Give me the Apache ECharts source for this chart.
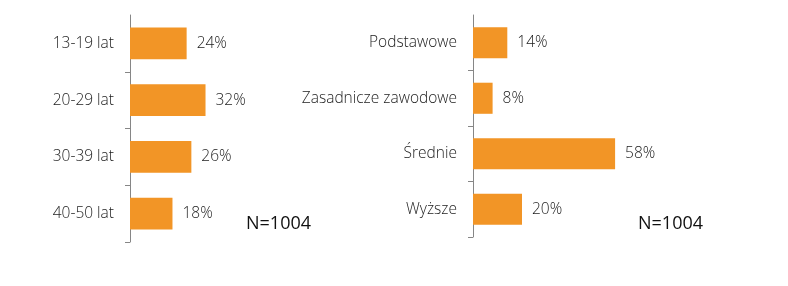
<!DOCTYPE html>
<html>
<head>
<meta charset="utf-8">
<script src="https://cdn.jsdelivr.net/npm/echarts@6/dist/echarts.min.js"></script>
<style>
html,body{margin:0;padding:0;background:#fff;}
#c{width:788px;height:286px;}
</style>
</head>
<body>
<div id="c"></div>
<script>
const ageCategories = ['13-19 lat', '20-29 lat', '30-39 lat', '40-50 lat'];
const ageValues = [24, 32, 26, 18];
const eduCategories = ['Podstawowe', 'Zasadnicze zawodowe', 'Średnie', 'Wyższe'];
const eduValues = [14, 8, 58, 20];
const sampleNote = 'N=1004';

const chart = echarts.init(document.getElementById('c'), null, {renderer: 'canvas'});
const FONT = '"Open Sans", sans-serif';
const ORANGE = '#F29526';

function yAxisFor(idx, cats) {
  return {
    type: 'category', gridIndex: idx, data: cats, inverse: true,
    axisLine: {show: true, lineStyle: {color: '#868686', width: 1}},
    axisTick: {show: true, length: 5, lineStyle: {color: '#868686'},
      interval: function (i) { return i !== 0; }},
    axisLabel: {margin: 16, color: '#1c1c1c', fontSize: 15.5, fontWeight: 300, fontFamily: FONT},
    splitLine: {show: false}
  };
}
function xAxisFor(idx) {
  return {type: 'value', gridIndex: idx, min: 0, max: 100, show: false};
}
function seriesFor(idx, vals) {
  return {
    type: 'bar', xAxisIndex: idx, yAxisIndex: idx, data: vals,
    barCategoryGap: '44%',
    itemStyle: {color: ORANGE},
    label: {show: true, position: 'right', distance: 10, formatter: '{c}%',
      color: '#1c1c1c', fontSize: 15.5, fontWeight: 300, fontFamily: FONT},
    silent: true
  };
}

chart.setOption({
  animation: false,
  grid: [
    {left: 130, top: 15, width: 236, height: 227},
    {left: 473, top: 15, width: 245, height: 222}
  ],
  xAxis: [xAxisFor(0), xAxisFor(1)],
  yAxis: [yAxisFor(0, ageCategories), yAxisFor(1, eduCategories)],
  series: [seriesFor(0, ageValues), seriesFor(1, eduValues)],
  graphic: [
    {type: 'text', left: 246, top: 215, style: {text: sampleNote, fontSize: 18, fontFamily: FONT, fill: '#111'}},
    {type: 'text', left: 638, top: 215, style: {text: sampleNote, fontSize: 18, fontFamily: FONT, fill: '#111'}}
  ]
});
</script>
</body>
</html>
